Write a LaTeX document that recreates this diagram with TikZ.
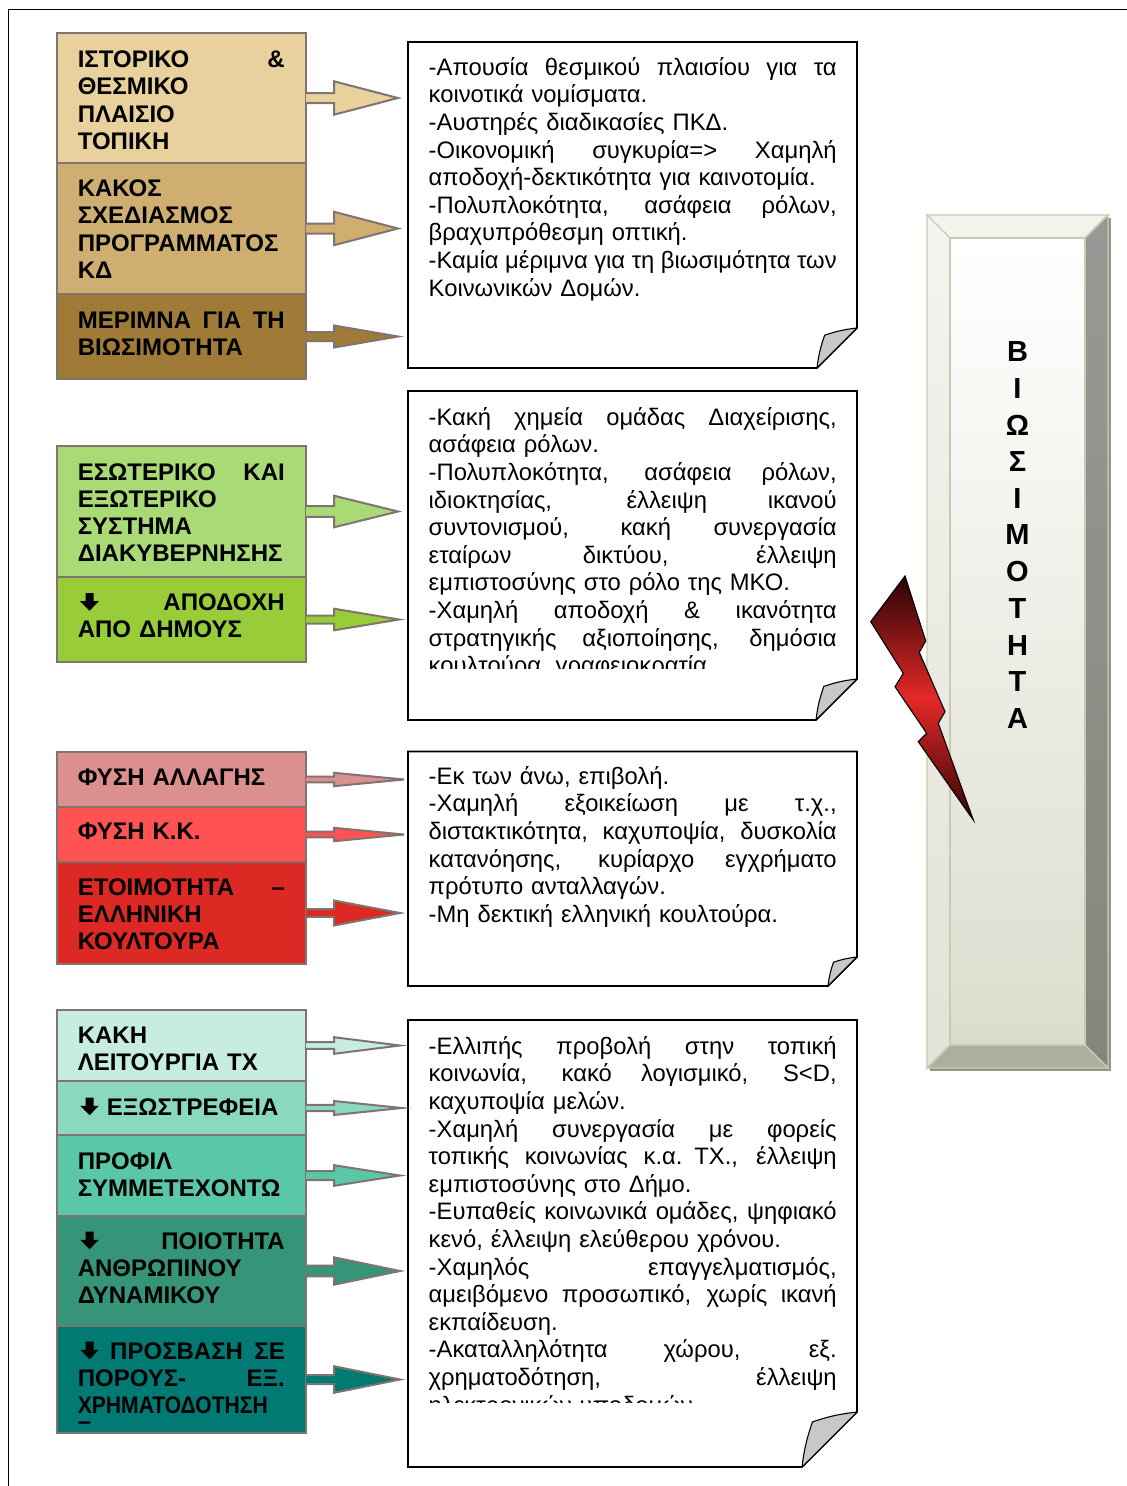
\documentclass[tikz,border=0pt]{standalone}
\usepackage{fontspec}
\usepackage{graphicx}
\setmainfont{Liberation Sans}
\usetikzlibrary{calc}
\setlength{\parindent}{0pt}
\definecolor{boxline}{RGB}{128,116,112}
\definecolor{cA}{RGB}{233,209,157}
\definecolor{cB}{RGB}{207,175,113}
\definecolor{cC}{RGB}{160,123,56}
\definecolor{cD}{RGB}{169,218,118}
\definecolor{cE}{RGB}{152,204,56}
\definecolor{cF}{RGB}{219,143,143}
\definecolor{cG}{RGB}{255,82,82}
\definecolor{cH}{RGB}{221,41,36}
\definecolor{cI}{RGB}{199,236,224}
\definecolor{cJ}{RGB}{138,216,190}
\definecolor{cK}{RGB}{90,199,168}
\definecolor{cL}{RGB}{54,148,120}
\definecolor{cM}{RGB}{0,122,114}
\definecolor{foldgray}{RGB}{200,200,200}
\definecolor{bevline}{RGB}{200,203,178}
\definecolor{bevtop}{RGB}{243,243,238}
\definecolor{bevleftA}{RGB}{244,244,240}
\definecolor{bevleftB}{RGB}{226,226,214}
\definecolor{bevrightA}{RGB}{152,152,150}
\definecolor{bevrightB}{RGB}{134,134,124}
\definecolor{bevbot}{RGB}{173,173,160}
\definecolor{bevinB}{RGB}{220,220,206}
\definecolor{bevshadow}{RGB}{150,150,142}
\definecolor{boltA}{RGB}{40,4,4}
\definecolor{boltB}{RGB}{228,40,40}
\definecolor{boltC}{RGB}{50,4,4}
% justified lines: explicit width, infinitely stretchable interword spaces
\newcommand{\jb}[1]{\leavevmode\hbox to 207pt{\strut\spaceskip=0.278em plus 1fil minus 0.1em\relax #1}}
\newcommand{\jn}[1]{\leavevmode\hbox to 408pt{\strut\spaceskip=0.278em plus 1fil minus 0.1em\relax #1}}
\newcommand{\lline}[1]{\strut #1}
\newcommand{\dnarrow}{\hspace*{2.4pt}\tikz[x=1pt,y=1pt,baseline=0pt]\fill (0,9.5) -- (18.7,9.5) -- (9.35,0) -- cycle (5.3,9) rectangle (13.4,17.7);}
\newcommand{\barrow}[5]{\path[arr, fill=#4] (#1.east) ++(0,#2) -- ++(28,0) -- ++(0,#3-#2) -- ++(#5,-#3) -- ++(-#5,-#3) -- ++(0,#3-#2) -- ++(-28,0);}
\newcommand{\notebox}[6]{%
  \path[note] (#2,#3) -- (#4,#3) -- (#4,#5-#6) -- (#4-#6,#5) -- (#2,#5) -- cycle;
  \path[fold] (#4-#6,#5) to[bend left=6] (#4-0.81*#6,#5-0.82*#6) to[bend left=6] (#4,#5-#6) -- cycle;}
\begin{document}
\begin{tikzpicture}[x=1pt,y=-1pt,
  cbox/.style={draw=boxline, line width=2.2pt, minimum width=249pt, inner sep=0pt, outer sep=0pt, anchor=north west},
  btext/.style={anchor=north west, inner sep=0pt, text width=207pt, align=left, font=\fontsize{24}{27.2}\selectfont\bfseries},
  ntext/.style={anchor=north west, inner sep=0pt, text width=408pt, align=left, font=\fontsize{23.8}{27.6}\selectfont},
  note/.style={draw=black, line width=1.6pt, fill=white},
  fold/.style={draw=black, line width=1.1pt, fill=foldgray, line join=round},
  arr/.style={draw=boxline, line width=2pt, line join=miter},
  bev/.style={draw=bevline, line width=1.4pt, line join=miter},
  vlet/.style={inner sep=0pt, font=\fontsize{29}{30}\selectfont\bfseries}]
\useasboundingbox (0,0) rectangle (1127,1486);
\fill[white] (0,0) rectangle (1127,1486);
\draw[line width=1.8pt] (8.5,1490) -- (8.5,9.5) -- (1130,9.5);

% ---------- bevel box ----------
\fill[bevshadow] (930,218) rectangle (1111,1071);
\path[bev, fill=bevtop] (927,215) -- (1108,215) -- (1085,238) -- (950,238) -- cycle;
\path[bev, top color=bevleftA, bottom color=bevleftB] (927,215) -- (950,238) -- (950,1045) -- (927,1068) -- cycle;
\path[bev, top color=bevrightA, bottom color=bevrightB] (1108,215) -- (1108,1068) -- (1085,1045) -- (1085,238) -- cycle;
\path[bev, fill=bevbot] (927,1068) -- (1108,1068) -- (1085,1045) -- (950,1045) -- cycle;
\path[bev, top color=white, bottom color=bevinB] (950,238) rectangle (1085,1045);
\foreach \c [count=\i from 0] in {Β,Ι,Ω,Σ,Ι,Μ,Ο,Τ,Η,Τ,Α}
  \node[vlet] (v\i) at (1017.5,351.5+36.7*\i) {\c};

% ---------- lightning ----------
\path[draw=black, line width=1.1pt, line join=miter, top color=boltA, bottom color=boltC, middle color=boltB]
  (905,576) -- (925.7,641) -- (919.3,652.3) -- (945,711.7) -- (938.3,723.3) -- (973.3,820)
  -- (918.3,741.7) -- (926.7,733.3) -- (895,686.7) -- (903.3,673.3) -- (870.7,621.7) -- cycle;

% ---------- notes ----------
\notebox{n1}{408}{42}{857}{368}{40}
\notebox{n2}{408}{391}{857}{720}{41}
\notebox{n3}{408}{751.5}{857}{986}{29}
\notebox{n4}{408}{1020}{857}{1467}{55}

\node[ntext] (t1) at (428.5,55.7) {%
\jn{-Απουσία θεσμικού πλαισίου για τα}\\
\lline{κοινοτικά νομίσματα.}\\
\lline{-Αυστηρές διαδικασίες ΠΚΔ.}\\
\jn{-Οικονομική συγκυρία=> Χαμηλή}\\
\lline{αποδοχή-δεκτικότητα για καινοτομία.}\\
\jn{-Πολυπλοκότητα, ασάφεια ρόλων,}\\
\lline{βραχυπρόθεσμη οπτική.}\\
\jn{-Καμία μέριμνα για τη βιωσιμότητα των}\\
\lline{Κοινωνικών Δομών.}};

\begin{scope}
\clip (400,391) rectangle (860,668);
\node[ntext] (t2) at (428.5,405.7) {%
\jn{-Κακή χημεία ομάδας Διαχείρισης,}\\
\lline{ασάφεια ρόλων.}\\
\jn{-Πολυπλοκότητα, ασάφεια ρόλων,}\\
\jn{ιδιοκτησίας, έλλειψη ικανού}\\
\jn{συντονισμού, κακή συνεργασία}\\
\jn{εταίρων δικτύου, έλλειψη}\\
\lline{εμπιστοσύνης στο ρόλο της ΜΚΟ.}\\
\jn{-Χαμηλή αποδοχή \& ικανότητα}\\
\jn{στρατηγικής αξιοποίησης, δημόσια}\\
\lline{κουλτούρα, γραφειοκρατία}};
\end{scope}

\node[ntext] (t3) at (428.5,764.7) {%
\lline{-Εκ των άνω, επιβολή.}\\
\jn{-Χαμηλή εξοικείωση με τ.χ.,}\\
\jn{διστακτικότητα, καχυποψία, δυσκολία}\\
\jn{κατανόησης, κυρίαρχο εγχρήματο}\\
\lline{πρότυπο ανταλλαγών.}\\
\lline{-Μη δεκτική ελληνική κουλτούρα.}};

\begin{scope}
\clip (400,1020) rectangle (860,1402);
\node[ntext] (t4) at (428.5,1034.7) {%
\jn{-Ελλιπής προβολή στην τοπική}\\
\jn{κοινωνία, κακό λογισμικό, S<D,}\\
\lline{καχυποψία μελών.}\\
\jn{-Χαμηλή συνεργασία με φορείς}\\
\jn{τοπικής κοινωνίας κ.α. ΤΧ., έλλειψη}\\
\lline{εμπιστοσύνης στο Δήμο.}\\
\jn{-Ευπαθείς κοινωνικά ομάδες, ψηφιακό}\\
\lline{κενό, έλλειψη ελεύθερου χρόνου.}\\
\jn{-Χαμηλός επαγγελματισμός,}\\
\jn{αμειβόμενο προσωπικό, χωρίς ικανή}\\
\lline{εκπαίδευση.}\\
\jn{-Ακαταλληλότητα χώρου, εξ.}\\
\jn{χρηματοδότηση, έλλειψη}\\
\lline{ηλεκτρονικών υποδομών.}};
\end{scope}

% ---------- left boxes ----------
\node[cbox, fill=cA, minimum height=130pt] (bA) at (57,33) {};
\node[cbox, fill=cB, minimum height=131pt] (bB) at (57,163) {};
\node[cbox, fill=cC, minimum height=85pt] (bC) at (57,294) {};
\node[cbox, fill=cD, minimum height=131pt] (bD) at (57,446) {};
\node[cbox, fill=cE, minimum height=85pt] (bE) at (57,577) {};
\node[cbox, fill=cF, minimum height=55pt] (bF) at (57,752) {};
\node[cbox, fill=cG, minimum height=55pt] (bG) at (57,807) {};
\node[cbox, fill=cH, minimum height=102pt] (bH) at (57,862) {};
\node[cbox, fill=cI, minimum height=71pt] (bI) at (57,1010) {};
\node[cbox, fill=cJ, minimum height=54pt] (bJ) at (57,1081) {};
\node[cbox, fill=cK, minimum height=81pt] (bK) at (57,1135) {};
\node[cbox, fill=cL, minimum height=110pt] (bL) at (57,1216) {};
\node[cbox, fill=cM, minimum height=107pt] (bM) at (57,1326) {};

\node[btext] (tA) at ($(bA.north west)+(20.6,15.5)$) {%
\jb{ΙΣΤΟΡΙΚΟ \&}\\ \lline{ΘΕΣΜΙΚΟ}\\ \lline{ΠΛΑΙΣΙΟ}\\ \lline{ΤΟΠΙΚΗ}};
\node[btext] (tB) at ($(bB.north west)+(20.6,14.5)$) {%
\lline{ΚΑΚΟΣ}\\ \lline{ΣΧΕΔΙΑΣΜΟΣ}\\ \lline{ΠΡΟΓΡΑΜΜΑΤΟΣ}\\ \lline{ΚΔ}};
\node[btext] (tC) at ($(bC.north west)+(20.6,15)$) {%
\jb{ΜΕΡΙΜΝΑ ΓΙΑ ΤΗ}\\ \lline{ΒΙΩΣΙΜΟΤΗΤΑ}};
\node[btext] (tD) at ($(bD.north west)+(20.6,15)$) {%
\jb{ΕΣΩΤΕΡΙΚΟ ΚΑΙ}\\ \lline{ΕΞΩΤΕΡΙΚΟ}\\ \lline{ΣΥΣΤΗΜΑ}\\ \lline{ΔΙΑΚΥΒΕΡΝΗΣΗΣ}};
\node[btext] (tE) at ($(bE.north west)+(20.6,14.5)$) {%
\jb{\dnarrow{} ΑΠΟΔΟΧΗ}\\ \lline{ΑΠΟ ΔΗΜΟΥΣ}};
\node[btext] (tF) at ($(bF.north west)+(20.6,14)$) {\lline{ΦΥΣΗ ΑΛΛΑΓΗΣ}};
\node[btext] (tG) at ($(bG.north west)+(20.6,13.5)$) {\lline{ΦΥΣΗ Κ.Κ.}};
\node[btext] (tH) at ($(bH.north west)+(20.6,14)$) {%
\jb{ΕΤΟΙΜΟΤΗΤΑ –}\\ \lline{ΕΛΛΗΝΙΚΗ}\\ \lline{ΚΟΥΛΤΟΥΡΑ}};
\node[btext] (tI) at ($(bI.north west)+(20.6,14)$) {%
\lline{ΚΑΚΗ}\\ \lline{ΛΕΙΤΟΥΡΓΙΑ ΤΧ}};
\node[btext] (tJ) at ($(bJ.north west)+(20.6,15)$) {\lline{\dnarrow{} ΕΞΩΣΤΡΕΦΕΙΑ}};
\node[btext] (tK) at ($(bK.north west)+(20.6,15)$) {%
\lline{ΠΡΟΦΙΛ}\\ \lline{ΣΥΜΜΕΤΕΧΟΝΤΩ}};
\node[btext] (tL) at ($(bL.north west)+(20.6,14)$) {%
\jb{\dnarrow{} ΠΟΙΟΤΗΤΑ}\\ \lline{ΑΝΘΡΩΠΙΝΟΥ}\\ \lline{ΔΥΝΑΜΙΚΟΥ}};
\node[btext] (tM) at ($(bM.north west)+(20.6,14)$) {%
\jb{\dnarrow{} ΠΡΟΣΒΑΣΗ ΣΕ}\\ \jb{ΠΟΡΟΥΣ- ΕΞ.}\\ \lline{\scalebox{0.88}[1]{ΧΡΗΜΑΤΟΔΟΤΗΣΗ}}\\[-11pt] \lline{–}};

% ---------- block arrows ----------
\barrow{bA}{5}{16.7}{cA}{64}
\barrow{bB}{5}{16.7}{cB}{64}
\barrow{bC}{4.5}{11}{cC}{64}
\barrow{bD}{5.4}{15.8}{cD}{64}
\barrow{bE}{4}{10.8}{cE}{65}
\barrow{bF}{2.8}{6.7}{cF}{70}
\barrow{bG}{2.8}{6.7}{cG}{70}
\barrow{bH}{3.8}{12.5}{cH}{66}
\barrow{bI}{3.3}{8.3}{cI}{66}
\barrow{bJ}{3.2}{7}{cJ}{68}
\barrow{bK}{4.5}{10.3}{cK}{66}
\barrow{bL}{5.3}{13.7}{cL}{66}
\barrow{bM}{4.5}{13.3}{cM}{66}
\end{tikzpicture}
\end{document}
